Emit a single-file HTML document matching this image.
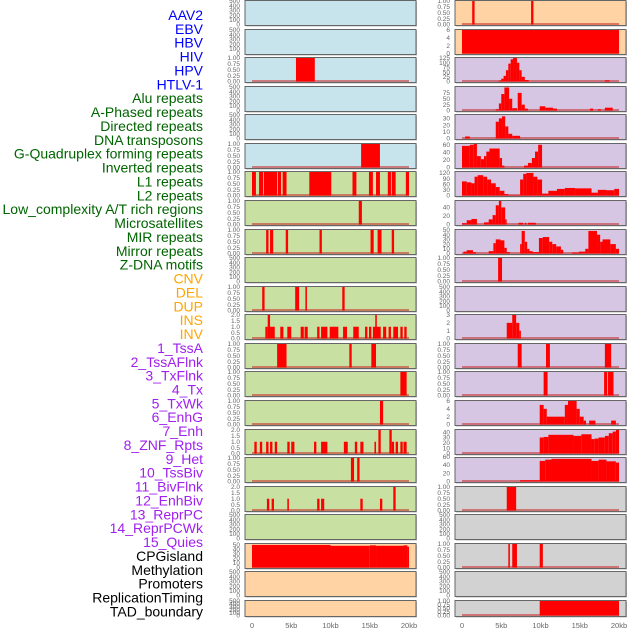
<!DOCTYPE html>
<html><head><meta charset="utf-8"><style>
body{margin:0;background:#fff;width:630px;height:630px;overflow:hidden}
svg{display:block}
.lbl{font-family:"Liberation Sans",sans-serif;font-size:14px}
.tk{font-family:"Liberation Sans",sans-serif;font-size:6.5px;fill:#666}
.xt{font-family:"Liberation Sans",sans-serif;font-size:7.5px;fill:#666}
</style></head><body>
<svg id="c" width="630" height="630"></svg>
<script>
const labels=["AAV2","EBV","HBV","HIV","HPV","HTLV-1","Alu repeats","A-Phased repeats","Directed repeats","DNA transposons","G-Quadruplex forming repeats","Inverted repeats","L1 repeats","L2 repeats","Low_complexity A/T rich regions","Microsatellites","MIR repeats","Mirror repeats","Z-DNA motifs","CNV","DEL","DUP","INS","INV","1_TssA","2_TssAFlnk","3_TxFlnk","4_Tx","5_TxWk","6_EnhG","7_Enh","8_ZNF_Rpts","9_Het","10_TssBiv","11_BivFlnk","12_EnhBiv","13_ReprPC","14_ReprPCWk","15_Quies","CPGisland","Methylation","Promoters","ReplicationTiming","TAD_boundary"];
const labelColors=["#0000ff","#006400","#ffa500","#a020f0","#000000"];
const labelGroups=[6,13,5,15,5];
const xTicks=[0,5,10,15,20];
const xTickLabels=["0","5kb","10kb","15kb","20kb"];
const T500=[0,100,200,300,400,500],T1=[0,0.25,0.5,0.75,1],T2=[0,0.5,1,1.5,2];
// left column
const leftBg=["blue","blue","blue","blue","blue","blue","green","green","green","green","green","green","green","green","green","green","green","green","green","peach","peach","peach"];
const leftMax=[500,500,1,500,500,1,1,1,1,500,1,2,1,1,1,2,1,2,500,52,500,500];
const leftTicks=[T500,T500,T1,T500,T500,T1,T1,T1,T1,T500,T1,T2,T1,T1,T1,T2,T1,T2,T500,[0,10,20,30,40,50],T500,T500];
const leftSegs=[
[],[],[[5.6,8.0,1]],[],[],[[13.9,16.3,1]],
[[0,0.5,1],[0.9,1.4,1],[1.5,3.2,1],[3.3,3.7,1],[3.9,4.4,1],[7.3,10.1,1],[12.8,13.3,1],[14.9,15.4,1],[15.8,16.3,1],[17.3,17.7,1],[17.8,18.3,1],[19.6,20,1]],
[[13.6,14.0,1]],
[[1.8,2.1,1],[2.3,2.7,1],[4.3,4.6,1],[8.6,8.9,1],[15.1,15.5,1],[16.0,16.5,1],[17.8,18.1,1]],
[],
[[1.3,1.6,1],[5.5,6.0,1],[6.8,7.0,1],[11.5,11.8,1]],
[[1.7,2.0,1],[2.0,2.3,2],[2.3,2.9,1],[3.6,4.0,1],[4.5,5.0,1],[6.2,6.6,1],[6.7,7.1,1],[8.3,8.6,1],[8.8,9.6,1],[9.9,11.0,1],[11.6,12.1,1],[12.9,13.6,1],[14.4,14.7,1],[14.9,15.2,1],[15.4,16.4,1],[15.7,15.9,2],[16.7,17.1,1],[17.4,17.7,1],[18.0,18.6,1],[18.9,19.2,1],[19.4,19.7,1]],
[[3.2,4.4,1],[12.4,12.7,1],[15.2,15.8,1]],
[[18.9,19.7,1]],
[[16.3,16.7,1]],
[[0.3,0.6,1],[1.0,1.3,1],[1.8,2.1,1],[2.3,2.6,1],[2.9,3.2,1],[4.5,4.8,1],[5.0,5.4,1],[7.9,8.2,1],[8.8,9.3,1],[9.3,9.6,1],[11.7,12.2,1],[13.1,13.4,1],[13.8,14.2,1],[15.6,15.8,1],[16.1,16.4,2],[17.5,17.8,2],[17.8,18.1,1],[18.3,18.6,1],[18.9,19.2,1],[19.3,19.7,1]],
[[12.6,13.0,1],[13.4,13.7,1]],
[[1.9,2.2,1],[2.5,2.8,1],[4.5,4.7,1],[8.3,8.6,1],[8.8,9.2,1],[13.8,14.1,1],[16.3,16.6,1],[18.0,18.3,2]],
[],
[[0,10,50],[10,15,48],[15,15.8,49],[15.8,19.3,48],[19.3,19.8,49],[19.8,20,46]],
[],[]];
// right column
const rightBg=["peach","peach","purple","purple","purple","purple","purple","purple","purple","purple","purple","purple","purple","purple","purple","purple","purple","gray","gray","gray","gray","gray"];
const rightMax=[1,6,125,100,35,62,125,55,50,1,500,3,1,1,6,44,57,1,500,1,500,1];
const rightTicks=[T1,[0,2,4,6],[0,25,50,75,100,125],[0,25,50,75],[0,10,20,30],[0,20,40,60],[0,30,60,90,120],[0,20,40],[0,10,20,30,40,50],T1,T500,[0,1,2,3],T1,T1,[0,2,4,6],[0,10,20,30,40],[0,20,40,60],T1,T500,T1,T500,T1];
const rightSegs=[
[[1.3,1.6,1],[8.8,9.1,1]],
[[0,20,6]],
[[4.7,5.0,5],[5.0,5.3,15],[5.3,5.6,30],[5.6,5.9,60],[5.9,6.2,95],[6.2,6.5,118],[6.5,7.0,125],[7.0,7.3,100],[7.3,7.6,60],[7.6,8.0,25],[8.0,8.5,8],[18.2,18.8,6]],
[[4.3,4.7,5],[4.7,5.0,30],[5.0,5.4,70],[5.4,6.0,98],[6.0,6.4,50],[6.4,7.0,10],[7.1,7.6,75],[7.6,8.0,25],[8.0,8.4,8],[9.9,10.6,18],[10.6,11.6,12],[11.6,12.1,8],[16.3,16.7,8],[17.3,17.7,5],[18.2,19.2,12]],
[[0.4,1.0,3],[4.3,4.7,25],[4.7,5.1,30],[5.1,5.5,33],[5.5,5.9,18],[5.9,6.4,7],[6.4,7.4,4]],
[[0,1.0,57],[1.0,1.5,60],[1.5,1.9,62],[1.9,2.4,30],[2.4,2.8,22],[2.8,3.1,30],[3.1,3.5,42],[3.5,4.8,50],[4.8,5.1,25],[5.1,5.4,5],[7.9,8.4,5],[8.4,8.9,12],[8.9,9.3,25],[9.3,9.7,42],[9.7,10.2,60]],
[[0,0.6,75],[0.6,1.2,70],[1.2,1.6,65],[1.6,2.0,100],[2.0,2.7,108],[2.7,3.2,100],[3.2,3.7,85],[3.7,4.3,65],[4.3,4.8,45],[4.8,5.4,25],[5.4,5.9,8],[5.9,7.4,2],[7.4,7.8,85],[7.8,8.2,115],[8.2,9.1,120],[9.1,9.6,100],[9.6,10.2,85],[10.2,11.0,10],[11.0,12.1,25],[12.1,13.1,35],[13.1,14.4,40],[14.4,16.5,38],[16.5,17.3,15],[17.3,18.4,30],[18.4,19.4,28],[19.4,20.0,35]],
[[0,0.6,3],[0.6,1.2,10],[1.2,1.9,13],[2.8,3.4,5],[3.4,3.9,12],[3.9,4.3,22],[4.3,4.7,45],[4.7,5.0,55],[5.0,5.5,40],[5.5,5.6,12],[7.2,7.8,4],[8.0,8.2,4],[8.4,9.4,4]],
[[0.2,0.6,4],[0.6,1.4,7],[1.4,1.8,3],[3.4,4.0,5],[4.0,4.3,22],[4.3,4.9,30],[4.9,5.4,28],[5.4,5.7,12],[5.7,6.1,3],[7.4,7.6,20],[7.6,8.0,48],[8.0,8.3,25],[8.3,8.6,10],[8.6,9.0,5],[9.0,9.8,3],[9.8,10.3,33],[10.3,11.1,35],[11.1,11.5,25],[11.5,12.0,20],[12.0,12.6,15],[12.6,12.9,8],[14.0,14.9,2],[14.9,15.7,4],[15.7,16.1,10],[16.1,17.2,48],[17.2,17.6,40],[17.6,17.9,25],[17.9,18.9,30],[18.9,19.6,20],[19.6,20.0,10]],
[[4.6,5.1,1]],
[],
[[5.7,6.4,2],[6.4,6.9,3],[6.9,7.3,2],[7.3,7.5,1]],
[[7.1,7.6,1],[10.7,11.2,1],[18.2,19.0,1]],
[[10.4,10.9,1],[18.1,18.5,1],[18.6,19.3,1]],
[[9.9,10.4,5],[10.4,10.8,4],[10.8,13.1,2],[13.1,13.5,5],[13.5,14.6,6],[14.6,15.0,4],[15.0,15.5,2],[15.5,15.8,1],[16.2,17.0,1],[19.0,19.6,1]],
[[9.9,10.4,30],[10.4,11.0,31],[11.0,14.2,35],[14.2,15.2,33],[15.2,16.5,36],[16.5,16.9,27],[16.9,17.4,28],[17.4,18.2,30],[18.2,18.7,33],[18.7,19.2,38],[19.2,19.6,41],[19.6,20.0,44]],
[[7.4,9.9,3],[9.9,10.6,50],[10.6,11.4,53],[11.4,16.5,55],[16.5,17.4,50],[17.4,18.4,53],[18.4,19.6,49],[19.6,20.0,46]],
[[5.7,6.9,1]],
[],
[[5.9,6.1,1],[6.4,7.0,1],[9.9,10.3,1]],
[],
[[9.9,20.0,1]]];
const bgColors={blue:"#c7e3eb",green:"#c8e0a1",peach:"#ffd3a3",purple:"#d6c6e3",gray:"#d2d2d2"};
const NS="http://www.w3.org/2000/svg";
const svg=document.getElementById("c");
function mk(tag,attrs,parent){const e=document.createElementNS(NS,tag);for(const k in attrs)e.setAttribute(k,attrs[k]);(parent||svg).appendChild(e);return e;}
// labels
let li=0;
labelGroups.forEach((n,g)=>{for(let j=0;j<n;j++){const t=mk("text",{x:203,y:20+li*13.87,"text-anchor":"end",fill:labelColors[g],class:"lbl"});t.textContent=labels[li];


li++;}});
function drawCol(x0,bg,maxs,ticks,segs,side){
  const px0=x0+7,pw=157;
  const xs=kb=>px0+kb/20*pw;
  for(let i=0;i<22;i++){
    const top=Math.round(i*28.57)+0.5,h=(i==21?16:25);
    const g=mk("g",{});
    
    
    mk("rect",{x:x0+1,y:top+1,width:171,height:h,fill:"#bbb"},g);
    mk("rect",{x:x0,y:top,width:171,height:h,fill:bgColors[bg[i]],stroke:"#666","stroke-width":1},g);
    const ybot=top+h-1,ytop=top+0.5;
    const ys=v=>ybot-v/maxs[i]*(ybot-ytop);
    ticks[i].forEach(v=>{const t=mk("text",{x:x0-5,y:ys(v)+2.2,"text-anchor":"end",class:"tk"},g);t.textContent=(maxs[i]==1?v.toFixed(2):(maxs[i]==2?v.toFixed(1):v));});
    if(segs[i].length){
      mk("line",{x1:xs(0),x2:xs(20),y1:ybot-0.5,y2:ybot-0.5,stroke:"rgba(200,40,40,0.55)","stroke-width":2},g);
      segs[i].forEach(s=>{const r=mk("rect",{x:xs(s[0]),y:ys(s[2]),width:Math.max(1.5,xs(s[1])-xs(s[0])),height:ybot-ys(s[2]),fill:"#ff0000"},g);
      
      });
    }
  }
  xTicks.forEach((k,j)=>{const t=mk("text",{x:xs(k),y:628,"text-anchor":"middle",class:"xt"});t.textContent=xTickLabels[j];
  
  });
}
drawCol(245,leftBg,leftMax,leftTicks,leftSegs,'left');
drawCol(455,rightBg,rightMax,rightTicks,rightSegs,'right');
</script>
</body></html>
